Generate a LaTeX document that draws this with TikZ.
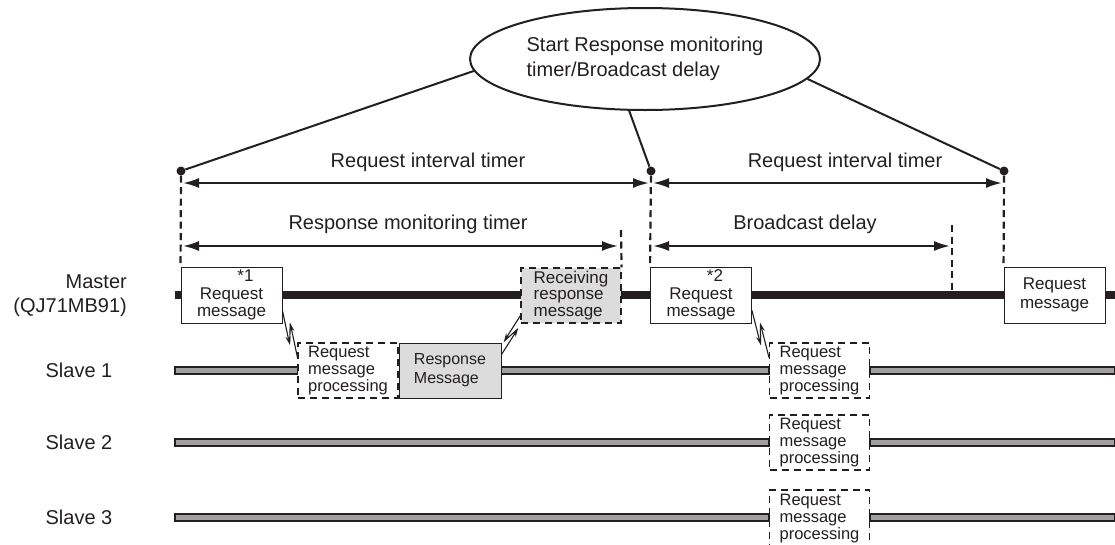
\documentclass[tikz,border=0pt]{standalone}
\usepackage{fontspec}
\setmainfont{Liberation Sans}
\usetikzlibrary{shapes.geometric,arrows.meta,calc}
\definecolor{ink}{HTML}{231F20}
\definecolor{slavegray}{HTML}{A0A0A0}
\definecolor{boxgray}{HTML}{DCDCDC}
\newcommand\mybolt[2]{%
  \coordinate (bA) at #1; \coordinate (bB) at #2;
  \coordinate (bM1) at ($(bA)!0.7!(bB)$);
  \coordinate (bM2) at ($(bA)!0.3!(bB)$);
  \coordinate (bP1) at ($(bM1)!3.5pt!-90:(bB)$);
  \coordinate (bP2) at ($(bM2)!3.5pt!90:(bB)$);
  \draw[boltline,-{Stealth[length=8pt,width=5pt]}] (bA) -- (bP1);
  \draw[boltline] (bP1) -- (bP2);
  \draw[boltline,{Stealth[length=8pt,width=5pt]}-] (bP2) -- (bB);
}
\begin{document}
\begin{tikzpicture}[x=1pt,y=-1pt,
  lbl/.style={font=\fontsize{20}{24}\selectfont, text=ink, inner sep=0pt},
  msgbox/.style={draw=ink, line width=0.9pt, fill=white, minimum width=101pt, minimum height=56pt, inner sep=0pt, align=center, font=\fontsize{17}{17.5}\selectfont, text=ink},
  procbox/.style={draw=ink, line width=1.1pt, dash pattern=on 7pt off 5pt, fill=white, minimum width=100pt, minimum height=55pt, inner sep=0pt, align=left, font=\fontsize{16.5}{17}\selectfont, text=ink},
  graybox/.style={fill=boxgray},
  vdash/.style={draw=ink, line width=2.2pt, dash pattern=on 7pt off 4.5pt},
  dimarrow/.style={draw=ink, line width=2pt, {Latex[length=16pt,width=10pt]}-{Latex[length=16pt,width=10pt]}},
  dot/.style={circle, fill=ink, inner sep=0pt, minimum size=9pt},
  conn/.style={draw=ink, line width=2pt},
  boltline/.style={draw=ink, line width=1.1pt},
  masterbar/.style={fill=ink},
  slavebar/.style={draw=ink, line width=1.2pt, fill=slavegray}
]
\useasboundingbox (0,0) rectangle (1115,544);

% row labels
\node[lbl, anchor=east, align=right] (lm) at (127,296) {Master\\(QJ71MB91)};
\node[lbl] (ls1) at (79,370.5) {Slave 1};
\node[lbl] (ls2) at (79,442.5) {Slave 2};
\node[lbl] (ls3) at (79,517.5) {Slave 3};

% master line
\fill[masterbar] (175,291) rectangle (1115,299);

% master boxes
\node[msgbox] (b1) at (231.5,295) {\hspace*{28pt}*1\\Request\\message};
\node[procbox, graybox, align=left, font=\fontsize{17}{16.5}\selectfont] (recv) at (571,295.5) {Receiving\\response\\message};
\node[msgbox] (b2) at (701,295) {\hspace*{28pt}*2\\Request\\message};
\node[msgbox, font=\fontsize{17}{19}\selectfont] (b3) at (1054.5,295) {Request\\message};

% slave boxes
\node[procbox] (pa) at (348,370.5) {Request\\message\\processing};
\node[msgbox, graybox, minimum width=102pt, minimum height=55pt, font=\fontsize{16}{19}\selectfont, align=left] (resp) at (450,370.5) {Response\\Message};
\node[procbox] (pb) at (819.5,370.5) {Request\\message\\processing};
\node[procbox] (pc) at (819.5,442.5) {Request\\message\\processing};
\node[procbox, minimum height=58pt] (pd) at (819.5,519) {Request\\message\\processing};

% slave lines
\draw[slavebar] (175,367) rectangle ($(pa.west)+(0,3.5)$);
\draw[slavebar] ($(resp.east)+(0,-3.5)$) rectangle ($(pb.west)+(0,3.5)$);
\draw[slavebar] ($(pb.east)+(0,-3.5)$) rectangle (1115,374);
\draw[slavebar] (175,439) rectangle ($(pc.west)+(0,3.5)$);
\draw[slavebar] ($(pc.east)+(0,-3.5)$) rectangle (1115,446);
\draw[slavebar] (175,514) rectangle (pd.west |- 0,521);
\draw[slavebar] (pd.east |- 0,514) rectangle (1115,521);

% dots
\node[dot] (d1) at (181,171) {};
\node[dot] (d2) at (651,171) {};
\node[dot] (d3) at (1004,171) {};

% dashed verticals
\coordinate (rmEnd) at (621,230);
\coordinate (bdEnd) at (952,225);
\coordinate (bdBot) at (952,291);
\draw[vdash] (d1) -- (b1.north west);
\draw[vdash] (d2) -- (b2.north west);
\draw[vdash] (d3) -- (b3.north west);
\draw[vdash] (rmEnd) -- (recv.north east);
\draw[vdash] (bdEnd) -- (bdBot);

% timer arrows
\coordinate (ri1s) at (183,183); \coordinate (ri1e) at (649,183);
\coordinate (ri2s) at (653,183); \coordinate (ri2e) at (1002,183);
\coordinate (rms) at (183,246); \coordinate (rme) at (618,246);
\coordinate (bds) at (653,246); \coordinate (bde) at (950,246);
\draw[dimarrow] (ri1s) -- (ri1e);
\draw[dimarrow] (ri2s) -- (ri2e);
\draw[dimarrow] (rms) -- (rme);
\draw[dimarrow] (bds) -- (bde);
\node[lbl] (t1) at (428,162) {Request interval timer};
\node[lbl] (t2) at (845,162) {Request interval timer};
\node[lbl] (t3) at (408,224) {Response monitoring timer};
\node[lbl] (t4) at (805,224) {Broadcast delay};

% ellipse
\node[ellipse, draw=ink, line width=2pt, minimum width=350pt, minimum height=102pt, inner sep=0pt, align=left, font=\fontsize{20}{25}\selectfont, text=ink] (ell) at (645,59) {Start Response monitoring\\timer/Broadcast delay};
\draw[conn] (d1) -- (ell.184);
\draw[conn] (d2) -- (ell.253);
\draw[conn] (d3) -- (ell.353);

% communication bolts
\mybolt{($(b1.south east)+(0,-13)$)}{($(pa.north west)+(0,15)$)}
\mybolt{($(resp.north east)+(0,12)$)}{($(recv.south west)+(0,-8)$)}
\mybolt{($(b2.south east)+(0,-13)$)}{($(pb.north west)+(0,15)$)}
\end{tikzpicture}
\end{document}
